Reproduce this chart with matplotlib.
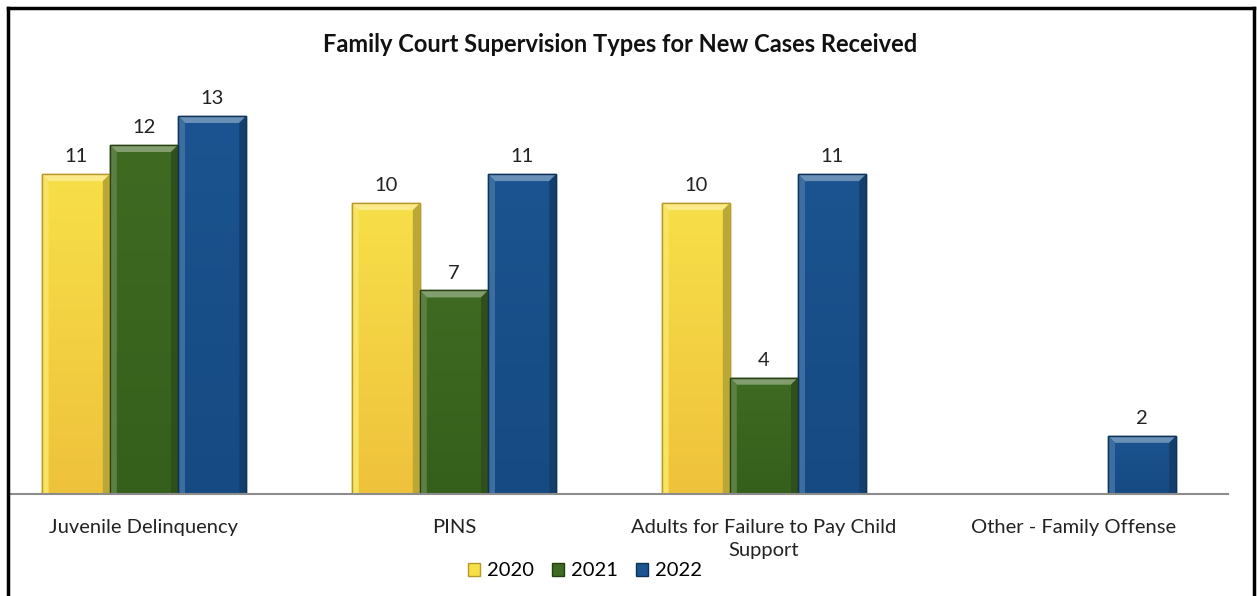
import matplotlib
matplotlib.use("Agg")
import matplotlib.pyplot as plt
from matplotlib.colors import to_rgb
from matplotlib.lines import Line2D
from matplotlib.patches import Polygon
import numpy as np

categories = ["Juvenile Delinquency", "PINS", "Adults for Failure to Pay Child\nSupport",
              "Other - Family Offense"]
years = ["2020", "2021", "2022"]
v2020 = [11, 10, 10, 0]
v2021 = [12, 7, 4, 0]
v2022 = [13, 11, 11, 2]

colors = ["#F7DF48", "#3E6A22", "#1B5490"]
bottoms = ["#EFC23C", "#35601C", "#164A82"]
edges = ["#B8982A", "#253F12", "#0F3358"]

plt.rcParams["font.family"] = ["Lato", "DejaVu Sans"]

W, H = 1257, 596
fig = plt.figure(figsize=(W / 100, H / 100), dpi=100)
x0, x1, y0, y1 = 10, 1228, 494, 60
ax = fig.add_axes([x0 / W, 1 - y0 / H, (x1 - x0) / W, (y0 - y1) / H])
ax.set_xlim(-0.432, 3.497)
ax.set_ylim(0, (y0 - y1) / 29.08)

px_x = 1 / 310.0   # data units per pixel
px_y = 1 / 29.08


def mix(c, other, t):
    a, b = np.array(to_rgb(c)), np.array(to_rgb(other))
    return tuple(a * (1 - t) + b * t)


x = np.arange(len(categories))
bw = 0.22
for k, (vals, c, cb, e) in enumerate(zip([v2020, v2021, v2022], colors, bottoms, edges)):
    pos = x + (k - 1) * bw
    bars = ax.bar(pos, vals, bw, color=c, edgecolor=e, linewidth=1.0, label=years[k], zorder=2)
    for b, v in zip(bars, vals):
        if not v:
            continue
        l, r = b.get_x(), b.get_x() + b.get_width()
        # vertical gradient inside the bar
        grad = np.linspace(0, 1, 64)[:, None]
        top_c, bot_c = np.array(to_rgb(c)), np.array(to_rgb(cb))
        img = top_c * (1 - grad[..., None]) + bot_c * grad[..., None]
        im = ax.imshow(img, extent=(l, r, 0, v), aspect="auto", origin="upper", zorder=2.1,
                       interpolation="bilinear")
        im.set_clip_path(b)
        # bevel
        dx, dy = 7 * px_x, 7 * px_y
        bev = [
            ([(l, v), (r, v), (r - dx, v - dy), (l + dx, v - dy)], mix(c, "white", 0.35)),
            ([(l, 0), (l, v), (l + dx, v - dy), (l + dx, 0)], mix(c, "white", 0.15)),
            ([(r, 0), (r, v), (r - dx, v - dy), (r - dx, 0)], mix(c, "black", 0.25)),
        ]
        for pts, fc in bev:
            ax.add_patch(Polygon(pts, closed=True, facecolor=fc, edgecolor="none", zorder=2.2))
        ax.add_patch(plt.Rectangle((l, 0), r - l, v, facecolor="none", edgecolor=e,
                                   linewidth=1.0, zorder=2.3))
        ax.text((l + r) / 2, v + 0.3, str(v), ha="center", va="bottom",
                fontsize=14.5, color="#222222")

for s in ["top", "right", "left"]:
    ax.spines[s].set_visible(False)
ax.spines["bottom"].set_color("#8C8C8C")
ax.spines["bottom"].set_linewidth(1.5)
ax.spines["bottom"].set_zorder(3)
ax.set_yticks([])
ax.set_xticks(x)
ax.set_xticklabels(categories, fontsize=14.5, color="#222222", linespacing=1.45)
ax.tick_params(axis="x", length=0, pad=18)
for lab in ax.get_xticklabels():
    lab.set_verticalalignment("center")
    lab.set_va("top")

fig.text(620 / W, 1 - 45 / H, "Family Court Supervision Types for New Cases Received",
         ha="center", va="center", fontsize=17, fontweight="bold", color="#111111")

fig.legend(loc="center", bbox_to_anchor=(585 / W, 1 - 571 / H), ncol=3, frameon=False,
           fontsize=14.5, handlelength=0.6, handleheight=0.6, handletextpad=0.35,
           columnspacing=0.9)

# outer frame
frame = [Line2D([8 / W, 8 / W], [0, 1 - 8 / H]), Line2D([8 / W, 1254 / W], [1 - 8 / H, 1 - 8 / H]),
         Line2D([1254 / W, 1254 / W], [0, 1 - 8 / H])]
for ln in frame:
    ln.set_transform(fig.transFigure)
    ln.set_color("black")
    ln.set_linewidth(2.5)
    fig.add_artist(ln)

fig.savefig("out.png", dpi=100)
